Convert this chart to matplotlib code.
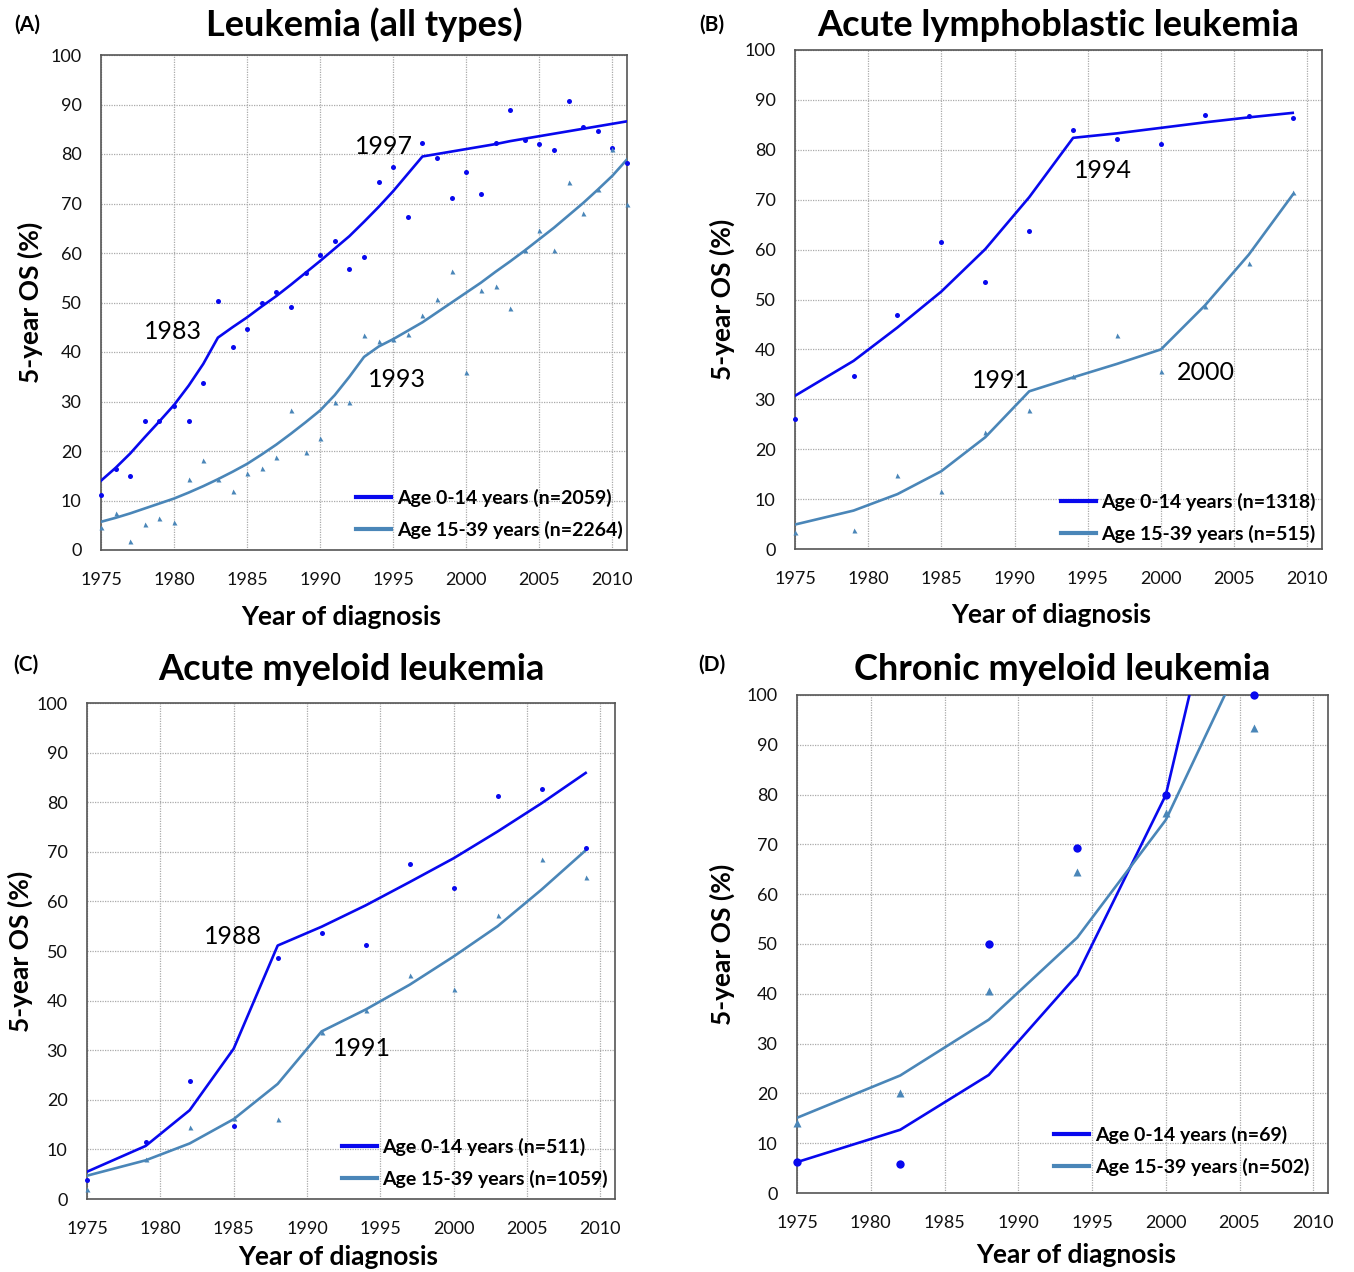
import numpy as np
import matplotlib
matplotlib.use("Agg")
from matplotlib import pyplot as plt

plt.rcParams['font.family'] = ['Lato', 'DejaVu Sans']

W, H = 1354, 1272
BLUE = '#0808ee'
TEAL = '#4a86b8'

# (A) Leukemia (all types): yearly values 1975-2011
years_a = list(range(1975, 2012))
child_pts_a = [11.1, 16.4, 15.0, 26.0, 26.0, 29.0, 26.0, 33.7, 50.4, 41.0, 44.6, 49.9, 52.1,
               49.0, 55.9, 59.5, 62.4, 56.8, 59.1, 74.4, 77.3, 67.2, 82.2, 79.1, 71.2, 76.4,
               72.0, 82.2, 88.8, 82.9, 82.0, 80.8, 90.8, 85.4, 84.6, 81.3, 78.2]
child_fit_a = [14.0, 16.6, 19.5, 22.8, 26.0, 29.3, 33.2, 37.6, 42.9, 45.0, 47.0, 49.2, 51.3,
               53.6, 56.0, 58.4, 60.9, 63.4, 66.3, 69.3, 72.5, 76.0, 79.5, 80.0, 80.5, 81.0,
               81.5, 82.0, 82.6, 83.1, 83.6, 84.1, 84.6, 85.1, 85.6, 86.1, 86.6]
aya_pts_a = [4.6, 7.4, 1.8, 5.2, 6.4, 5.7, 14.4, 18.1, 14.3, 11.9, 15.5, 16.6, 18.8,
             28.2, 19.8, 22.6, 29.9, 30.0, 43.5, 42.2, 42.6, 43.6, 47.5, 50.7, 56.4, 36.0,
             52.6, 53.4, 48.8, 60.7, 64.7, 60.6, 74.4, 68.1, 73.0, 81.0, 70.0]
aya_fit_a = [5.7, 6.5, 7.4, 8.4, 9.4, 10.4, 11.6, 12.9, 14.3, 15.8, 17.4, 19.3, 21.3,
             23.5, 25.8, 28.2, 31.3, 35.0, 39.0, 41.1, 42.6, 44.3, 46.0, 48.0, 50.0, 52.0,
             54.0, 56.2, 58.3, 60.5, 62.8, 65.1, 67.6, 70.1, 72.8, 75.6, 78.9]

# (B) Acute lymphoblastic leukemia
years_b = [1975, 1979, 1982, 1985, 1988, 1991, 1994, 1997, 2000, 2003, 2006, 2009]
child_pts_b = [26.1, 34.6, 46.8, 61.5, 53.6, 63.7, 84.0, 82.2, 81.2, 87.0, 86.8, 86.3]
child_fit_b = [30.7, 37.7, 44.4, 51.6, 60.1, 70.5, 82.4, 83.3, 84.4, 85.5, 86.5, 87.4]
aya_pts_b = [3.5, 3.9, 14.9, 11.6, 23.5, 27.9, 34.7, 42.8, 35.7, 48.6, 57.3, 71.5]
aya_fit_b = [4.9, 7.7, 11.0, 15.6, 22.4, 31.6, 34.4, 37.1, 40.0, 48.8, 59.0, 71.0]

# (C) Acute myeloid leukemia
years_c = [1975, 1979, 1982, 1985, 1988, 1991, 1994, 1997, 2000, 2003, 2006, 2009]
child_pts_c = [3.9, 11.5, 23.8, 14.7, 48.5, 53.6, 51.3, 67.5, 62.7, 81.3, 82.6, 70.8]
child_fit_c = [5.5, 10.7, 17.9, 30.3, 51.1, 54.9, 59.2, 63.9, 68.7, 74.1, 79.8, 85.9]
aya_pts_c = [2.0, 8.0, 14.5, 16.4, 16.1, 33.7, 38.1, 45.2, 42.3, 57.3, 68.5, 64.9]
aya_fit_c = [4.7, 7.8, 11.2, 16.1, 23.2, 33.8, 38.2, 43.2, 48.9, 55.0, 62.4, 70.3]

# (D) Chronic myeloid leukemia
years_d = [1975, 1982, 1988, 1994, 2000, 2006]
child_pts_d = [6.2, 5.8, 50.0, 69.2, 79.9, 100.0]
child_fit_d = [6.2, 12.7, 23.7, 43.8, 79.9, 155.0]
aya_pts_d = [14.0, 20.1, 40.6, 64.4, 76.4, 93.3]
aya_fit_d = [15.1, 23.6, 34.8, 51.3, 74.9, 112.5]

# layout in pixels: axes box, title y, x-label centre, legend lower-right corner
panels = [
    dict(tag='(A)', title='Leukemia (all types)', years=years_a,
         cp=child_pts_a, cf=child_fit_a, ap=aya_pts_a, af=aya_fit_a,
         n=('2059', '2264'), box=(101, 55, 627, 550), ms=3.6,
         ty=25, tag_xy=(27, 25), xlab=(341, 617), ylab_x=30, leg=(623, 539),
         notes=[('1983', 173, 331), ('1997', 384, 146), ('1993', 397, 379)]),
    dict(tag='(B)', title='Acute lymphoblastic leukemia', years=years_b,
         cp=child_pts_b, cf=child_fit_b, ap=aya_pts_b, af=aya_fit_b,
         n=('1318', '515'), box=(795, 50, 1322, 549), ms=3.6,
         ty=25, tag_xy=(712, 25), xlab=(1051, 615), ylab_x=722, leg=(1316, 543),
         notes=[('1994', 1103, 171), ('1991', 1001, 380), ('2000', 1206, 373)]),
    dict(tag='(C)', title='Acute myeloid leukemia', years=years_c,
         cp=child_pts_c, cf=child_fit_c, ap=aya_pts_c, af=aya_fit_c,
         n=('511', '1059'), box=(87, 703, 615, 1199), ms=3.6,
         ty=669, tag_xy=(26, 665), xlab=(338, 1257), ylab_x=20, leg=(608, 1188),
         notes=[('1988', 233, 936), ('1991', 362, 1048)]),
    dict(tag='(D)', title='Chronic myeloid leukemia', years=years_d,
         cp=child_pts_d, cf=child_fit_d, ap=aya_pts_d, af=aya_fit_d,
         n=('69', '502'), box=(797, 695, 1328, 1193), ms=6.0,
         ty=669, tag_xy=(712, 665), xlab=(1076, 1255), ylab_x=722, leg=(1309, 1176),
         notes=[]),
]

fig = plt.figure(figsize=(W / 100, H / 100), dpi=100)


def fx(x):
    return x / W


def fy(y):
    return 1 - y / H


for p in panels:
    x0, y0, x1, y1 = p['box']
    ax = fig.add_axes([fx(x0), fy(y1), (x1 - x0) / W, (y1 - y0) / H])

    # joinpoint fitted lines and observed values
    l1, = ax.plot(p['years'], p['cf'], color=BLUE, lw=1.9, zorder=3)
    l2, = ax.plot(p['years'], p['af'], color=TEAL, lw=1.9, zorder=3)
    ax.plot(p['years'], p['cp'], 'o', color=BLUE, ms=p['ms'], mec='none', zorder=4, clip_on=False)
    ax.plot(p['years'], p['ap'], '^', color=TEAL, ms=p['ms'], mec='none', zorder=4, clip_on=False)

    ax.set_xlim(1975, 2011)
    ax.set_ylim(0, 100)
    ax.set_xticks(np.arange(1975, 2011, 5))
    ax.set_yticks(np.arange(0, 101, 10))
    ax.grid(True, color='#aaaaaa', ls=(0, (1, 1)), lw=0.9)
    ax.tick_params(length=0, labelsize=13, colors='#111111')
    ax.tick_params(axis='x', pad=16)
    ax.tick_params(axis='y', pad=14)
    for s in ax.spines.values():
        s.set_color('#555555')
        s.set_linewidth(1.2)

    ax.legend([l1, l2], ['Age 0-14 years (n=%s)' % p['n'][0], 'Age 15-39 years (n=%s)' % p['n'][1]],
              loc='lower right', bbox_to_anchor=(fx(p['leg'][0]), fy(p['leg'][1])),
              bbox_transform=fig.transFigure, frameon=False, borderpad=0, borderaxespad=0,
              prop={'weight': 'bold', 'size': 14}, handlelength=1.8, handletextpad=0.3,
              labelspacing=0.7)
    for h in ax.get_legend().get_lines():
        h.set_linewidth(3)

    for txt, tx, ty in p['notes']:
        fig.text(fx(tx), fy(ty), txt, fontsize=18, ha='center', va='center')

    fig.text(fx((x0 + x1) / 2), fy(p['ty']), p['title'], fontsize=26, weight='bold',
             ha='center', va='center')
    fig.text(fx(p['tag_xy'][0]), fy(p['tag_xy'][1]), p['tag'], fontsize=15, weight='bold',
             ha='center', va='center')
    fig.text(fx(p['xlab'][0]), fy(p['xlab'][1]), 'Year of diagnosis', fontsize=19, weight='bold',
             ha='center', va='center')
    fig.text(fx(p['ylab_x']), fy((y0 + y1) / 2), '5-year OS (%)', fontsize=19, weight='bold',
             ha='center', va='center', rotation=90)

fig.savefig('out.png', dpi=100)
